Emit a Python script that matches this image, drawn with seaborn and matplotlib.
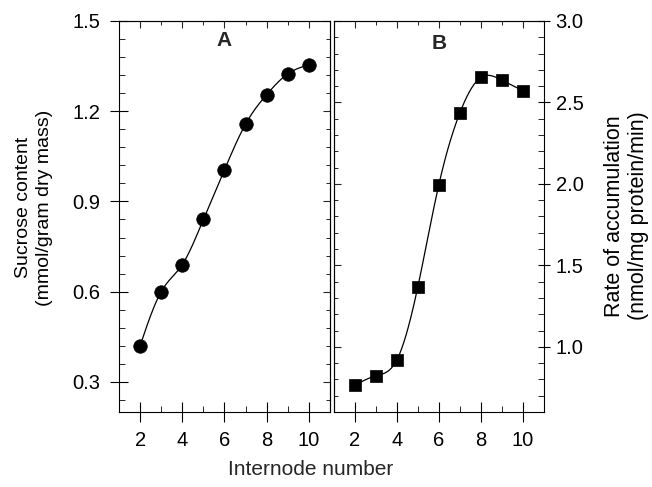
import numpy as np
import seaborn as sns
import matplotlib.pyplot as plt
from matplotlib.ticker import AutoMinorLocator

# Data
internode = [2, 3, 4, 5, 6, 7, 8, 9, 10]
sucrose = [0.42, 0.60, 0.69, 0.84, 1.005, 1.157, 1.255, 1.324, 1.354]
rate = [0.765, 0.822, 0.919, 1.367, 1.994, 2.435, 2.653, 2.637, 2.572]

x_ticks = [2, 4, 6, 8, 10]
sucrose_ticks = [0.3, 0.6, 0.9, 1.2, 1.5]
rate_ticks = [1.0, 1.5, 2.0, 2.5, 3.0]

sns.set_theme(style="ticks")
plt.rcParams["font.family"] = ["Liberation Sans", "DejaVu Sans"]
plt.rcParams["axes.linewidth"] = 0.8


def natural_spline(x, y, num=300):
    # natural cubic spline through the measured points (for the drawn curve)
    x = np.asarray(x, float)
    y = np.asarray(y, float)
    n = len(x)
    h = np.diff(x)
    A = np.zeros((n, n))
    b = np.zeros(n)
    A[0, 0] = A[-1, -1] = 1
    for i in range(1, n - 1):
        A[i, i - 1] = h[i - 1]
        A[i, i] = 2 * (h[i - 1] + h[i])
        A[i, i + 1] = h[i]
        b[i] = 6 * ((y[i + 1] - y[i]) / h[i] - (y[i] - y[i - 1]) / h[i - 1])
    m = np.linalg.solve(A, b)
    xs = np.linspace(x[0], x[-1], num)
    idx = np.clip(np.searchsorted(x, xs) - 1, 0, n - 2)
    x0, x1 = x[idx], x[idx + 1]
    hh = x1 - x0
    t0, t1 = x1 - xs, xs - x0
    ys = ((m[idx] * t0**3 + m[idx + 1] * t1**3) / (6 * hh)
          + (y[idx] / hh - m[idx] * hh / 6) * t0
          + (y[idx + 1] / hh - m[idx + 1] * hh / 6) * t1)
    return xs, ys


def draw_panel(ax, yvals, marker, size, ylim, yticks, letter, letter_pos,
               label_side, ylen, ypad):
    xs, ys = natural_spline(internode, yvals)
    sns.lineplot(x=xs, y=ys, ax=ax, color="black", linewidth=0.9,
                 sort=False, estimator=None)
    sns.scatterplot(x=internode, y=yvals, ax=ax, marker=marker, s=size,
                    color="black", edgecolor="black", linewidth=0.5, zorder=3)
    ax.set_xlim(1, 11)
    ax.set_ylim(*ylim)
    ax.set_xticks(x_ticks)
    ax.set_yticks(yticks)
    ax.set_yticklabels([f"{t:.1f}" for t in yticks])
    ax.xaxis.set_minor_locator(AutoMinorLocator(2))
    ax.yaxis.set_minor_locator(AutoMinorLocator(5))
    ax.tick_params(which="major", direction="inout", width=0.8,
                   labelsize=14.5, colors="black")
    ax.tick_params(axis="x", which="major", length=14, pad=7)
    ax.tick_params(axis="y", which="major", length=ylen, pad=ypad)
    ax.tick_params(which="minor", direction="in", length=4, width=0.7)
    if label_side == "right":
        ax.yaxis.tick_right()
        ax.yaxis.set_label_position("right")
    ax.text(letter_pos[0], letter_pos[1], letter, transform=ax.transAxes,
            ha="center", va="center", fontsize=15, fontweight="bold")

    # inward ticks on the opposite sides
    sec_x = ax.secondary_xaxis("top")
    sec_x.set_xticks(x_ticks)
    sec_x.xaxis.set_minor_locator(AutoMinorLocator(2))
    sec_x.tick_params(which="major", direction="in", length=5, width=0.8,
                      labeltop=False)
    sec_x.tick_params(which="minor", direction="in", length=3, width=0.7)
    other = "left" if label_side == "right" else "right"
    sec_y = ax.secondary_yaxis(other)
    sec_y.set_yticks(yticks)
    sec_y.yaxis.set_minor_locator(AutoMinorLocator(5))
    sec_y.tick_params(which="major", direction="in", length=5, width=0.8,
                      labelleft=False, labelright=False)
    sec_y.tick_params(which="minor", direction="in", length=3, width=0.7)
    for s in ax.spines.values():
        s.set_color("black")


fig = plt.figure(figsize=(6.52, 4.87), dpi=100)
axA = fig.add_axes([0.1825, 0.154, 0.3235, 0.803])
axB = fig.add_axes([0.512, 0.154, 0.322, 0.803])

draw_panel(axA, sucrose, "o", 95, (0.2, 1.5), sucrose_ticks, "A",
           (0.50, 0.949), "left", 13, 7)
draw_panel(axB, rate, "s", 75, (0.6, 3.0), rate_ticks, "B",
           (0.504, 0.943), "right", 9, 4)

axA.set_ylabel("Sucrose content\n(mmol/gram dry mass)", fontsize=14,
               color="black", linespacing=1.3)
axB.set_ylabel("Rate of accumulation\n(nmol/mg protein/min)", fontsize=15.5,
               color="black", rotation=90, linespacing=1.15)
for ax, pos in ((axA, (-0.403, 0.522)), (axB, (1.394, 0.501))):
    ax.yaxis.label.set_va("center")
    ax.yaxis.label.set_ha("center")
    ax.yaxis.set_label_coords(*pos)
axA.set_xlabel("")
axB.set_xlabel("")
fig.text(0.476, 0.035, "Internode number", ha="center", va="center",
         fontsize=15)

fig.savefig("out.png", dpi=100, facecolor="white")
